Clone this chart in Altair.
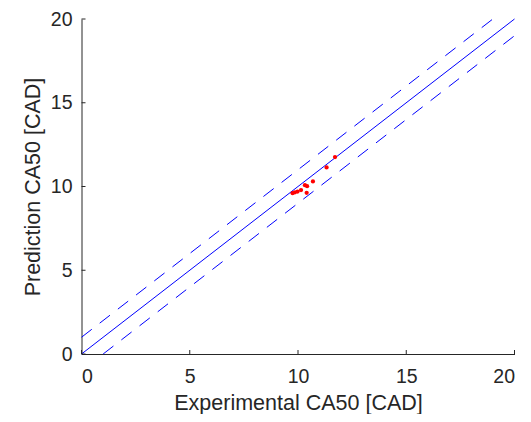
import altair as alt
import pandas as pd

# Data
experimental = [9.75, 9.86, 9.98, 10.14, 10.32, 10.42, 10.40, 10.69, 11.32, 11.71]
prediction = [9.60, 9.65, 9.70, 9.79, 10.08, 10.02, 9.62, 10.30, 11.14, 11.76]

ideal_x = [0, 20]
ideal_y = [0, 20]
upper_x = [0, 19]
upper_y = [1, 20]
lower_x = [1, 20]
lower_y = [0, 19]

tick_values = [0, 5, 10, 15, 20]

pts = pd.DataFrame({"exp": experimental, "pred": prediction})
ideal = pd.DataFrame({"exp": ideal_x, "pred": ideal_y})
upper = pd.DataFrame({"exp": upper_x, "pred": upper_y})
lower = pd.DataFrame({"exp": lower_x, "pred": lower_y})
ticks = pd.DataFrame({"t": tick_values})

W, H = 433, 335
FONT = "Liberation Sans"
AX = "#262626"

xs = alt.Scale(domain=[0, 20], nice=False, zero=False)
ys = alt.Scale(domain=[0, 20], nice=False, zero=False)

xenc = alt.X("exp:Q", scale=xs, axis=alt.Axis(
    title="Experimental CA50 [CAD]", values=tick_values, ticks=False,
    grid=False, labelPadding=13.5, titleY=55.5, titleBaseline="alphabetic",
    domainColor=AX, labelColor=AX, titleColor=AX,
    labelFontSize=19.5, titleFontSize=21.5, labelFont=FONT, titleFont=FONT,
    titleFontWeight="normal"))
yenc = alt.Y("pred:Q", scale=ys, axis=alt.Axis(
    title="Prediction CA50 [CAD]", values=tick_values, ticks=False,
    grid=False, labelPadding=9.5, titleX=-42.5, titleBaseline="alphabetic",
    domainColor=AX, labelColor=AX, titleColor=AX,
    labelFontSize=19.5, titleFontSize=21.5, labelFont=FONT, titleFont=FONT,
    titleFontWeight="normal"))

DASH = [13, 10]
ideal_line = alt.Chart(ideal).mark_line(color="#0000FF", strokeWidth=1).encode(x=xenc, y=yenc)
upper_line = alt.Chart(upper).mark_line(color="#0000FF", strokeWidth=1, strokeDash=DASH).encode(
    x=alt.X("exp:Q", scale=xs), y=alt.Y("pred:Q", scale=ys))
lower_line = alt.Chart(lower).mark_line(color="#0000FF", strokeWidth=1, strokeDash=DASH).encode(
    x=alt.X("exp:Q", scale=xs), y=alt.Y("pred:Q", scale=ys))
points = alt.Chart(pts).mark_circle(color="#FF0000", opacity=1, size=18).encode(
    x=alt.X("exp:Q", scale=xs), y=alt.Y("pred:Q", scale=ys))

xticks = alt.Chart(ticks).mark_rule(color=AX, strokeWidth=1).encode(
    x=alt.X("t:Q", scale=xs), y=alt.value(H), y2=alt.value(H - 4))
yticks = alt.Chart(ticks).mark_rule(color=AX, strokeWidth=1).encode(
    y=alt.Y("t:Q", scale=ys), x=alt.value(0), x2=alt.value(4))

chart = alt.layer(ideal_line, upper_line, lower_line, points, xticks, yticks).properties(
    width=W, height=H,
    autosize=alt.AutoSizeParams(type="none"),
    padding={"left": 73.5, "top": 11, "right": 6, "bottom": 60},
    background="white",
).configure_view(stroke=None)

chart.save("out.html", embed_options={"renderer": "svg", "actions": False})
